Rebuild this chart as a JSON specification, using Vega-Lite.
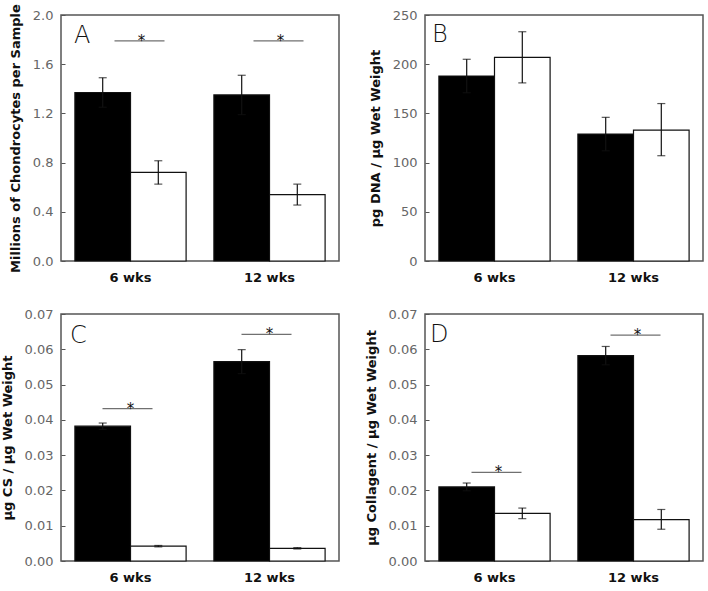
{
  "$schema": "https://vega.github.io/schema/vega-lite/v6.json",
  "padding": {"left": 0, "top": 2, "right": 0, "bottom": 0},
  "background": "white",
  "config": {
    "font": "DejaVu Sans",
    "view": {"stroke": "#555", "strokeWidth": 1.5},
    "axis": {"labelFont": "DejaVu Sans", "titleFont": "DejaVu Sans", "domain": false, "grid": false, "labelOverlap": false},
    "axisY": {"labelColor": "#666", "labelFontSize": 13, "titleFontSize": 13, "titleFontWeight": "bold", "titleColor": "#111", "tickSize": -4, "tickColor": "#555", "labelPadding": 12, "titlePadding": 10, "labelOverlap": false},
    "axisX": {"labelColor": "#111", "labelFontSize": 13, "labelFontWeight": "bold", "ticks": false, "labelPadding": 10, "labelAngle": 0}
  },
  "datasets": {
    "bars": [
      {"panel": "A", "group": "6 wks", "series": "filled", "value": 1.37, "lo": 1.25, "hi": 1.49},
      {"panel": "A", "group": "6 wks", "series": "open", "value": 0.72, "lo": 0.625, "hi": 0.815},
      {"panel": "A", "group": "12 wks", "series": "filled", "value": 1.35, "lo": 1.19, "hi": 1.51},
      {"panel": "A", "group": "12 wks", "series": "open", "value": 0.54, "lo": 0.455, "hi": 0.625},
      {"panel": "B", "group": "6 wks", "series": "filled", "value": 188, "lo": 171, "hi": 205},
      {"panel": "B", "group": "6 wks", "series": "open", "value": 207, "lo": 181, "hi": 233},
      {"panel": "B", "group": "12 wks", "series": "filled", "value": 129, "lo": 112, "hi": 146},
      {"panel": "B", "group": "12 wks", "series": "open", "value": 133, "lo": 107, "hi": 160},
      {"panel": "C", "group": "6 wks", "series": "filled", "value": 0.0382, "lo": 0.0373, "hi": 0.0391},
      {"panel": "C", "group": "6 wks", "series": "open", "value": 0.0042, "lo": 0.0040, "hi": 0.0044},
      {"panel": "C", "group": "12 wks", "series": "filled", "value": 0.0565, "lo": 0.0531, "hi": 0.0599},
      {"panel": "C", "group": "12 wks", "series": "open", "value": 0.0036, "lo": 0.0034, "hi": 0.0038},
      {"panel": "D", "group": "6 wks", "series": "filled", "value": 0.0210, "lo": 0.0199, "hi": 0.0221},
      {"panel": "D", "group": "6 wks", "series": "open", "value": 0.0135, "lo": 0.0120, "hi": 0.0150},
      {"panel": "D", "group": "12 wks", "series": "filled", "value": 0.0582, "lo": 0.0556, "hi": 0.0608},
      {"panel": "D", "group": "12 wks", "series": "open", "value": 0.0117, "lo": 0.0090, "hi": 0.0146}
    ],
    "sig": [
      {"panel": "A", "group": "6 wks", "y": 1.79},
      {"panel": "A", "group": "12 wks", "y": 1.79},
      {"panel": "C", "group": "6 wks", "y": 0.0432},
      {"panel": "C", "group": "12 wks", "y": 0.0642},
      {"panel": "D", "group": "6 wks", "y": 0.0251},
      {"panel": "D", "group": "12 wks", "y": 0.0640}
    ],
    "letters": [
      {"panel": "A", "letter": "A"},
      {"panel": "B", "letter": "B"},
      {"panel": "C", "letter": "C"},
      {"panel": "D", "letter": "D"}
    ]
  },
  "columns": 2,
  "spacing": {"row": 22, "column": 24},
  "concat": [
    {
      "width": 278, "height": 246,
      "encoding": {
        "x": {"field": "group", "type": "nominal", "sort": ["6 wks", "12 wks"], "title": null, "scale": {"paddingInner": 0.2, "paddingOuter": 0.1}}
      },
      "layer": [
        {"data": {"name": "bars"}, "transform": [{"filter": "datum.panel === 'A'"}], "mark": {"type": "bar", "stroke": "#111", "strokeWidth": 1.2},
         "encoding": {"xOffset": {"field": "series", "sort": ["filled", "open"], "scale": {"paddingInner": 0, "paddingOuter": 0}},
           "y": {"field": "value", "type": "quantitative", "title": "Millions of Chondrocytes per Sample", "scale": {"domain": [0, 2.0], "nice": false}, "axis": {"values": [0, 0.4, 0.8, 1.2, 1.6, 2.0], "format": ".1f", "labelOverlap": false}},
           "fill": {"field": "series", "type": "nominal", "scale": {"domain": ["filled", "open"], "range": ["#000000", "#ffffff"]}, "legend": null}}},
        {"data": {"name": "bars"}, "transform": [{"filter": "datum.panel === 'A'"}], "mark": {"type": "rule", "color": "#111", "strokeWidth": 1.2},
         "encoding": {"xOffset": {"field": "series", "sort": ["filled", "open"]}, "y": {"field": "lo", "type": "quantitative", "title": "Millions of Chondrocytes per Sample", "axis": {"values": [0, 0.4, 0.8, 1.2, 1.6, 2.0], "format": ".1f", "labelOverlap": false}}, "y2": {"field": "hi"}}},
        {"data": {"name": "bars"}, "transform": [{"filter": "datum.panel === 'A'"}], "mark": {"type": "tick", "color": "#111", "size": 8, "thickness": 1.2},
         "encoding": {"xOffset": {"field": "series", "sort": ["filled", "open"]}, "y": {"field": "hi", "type": "quantitative", "title": "Millions of Chondrocytes per Sample", "axis": {"values": [0, 0.4, 0.8, 1.2, 1.6, 2.0], "format": ".1f", "labelOverlap": false}}}},
        {"data": {"name": "bars"}, "transform": [{"filter": "datum.panel === 'A'"}], "mark": {"type": "tick", "color": "#111", "size": 8, "thickness": 1.2},
         "encoding": {"xOffset": {"field": "series", "sort": ["filled", "open"]}, "y": {"field": "lo", "type": "quantitative", "title": "Millions of Chondrocytes per Sample", "axis": {"values": [0, 0.4, 0.8, 1.2, 1.6, 2.0], "format": ".1f", "labelOverlap": false}}}},
        {"data": {"name": "sig"}, "transform": [{"filter": "datum.panel === 'A'"}], "mark": {"type": "tick", "color": "#333", "size": 50, "thickness": 1.2, "xOffset": 9},
         "encoding": {"y": {"field": "y", "type": "quantitative", "title": "Millions of Chondrocytes per Sample", "axis": {"values": [0, 0.4, 0.8, 1.2, 1.6, 2.0], "format": ".1f", "labelOverlap": false}}}},
        {"data": {"name": "sig"}, "transform": [{"filter": "datum.panel === 'A'"}], "mark": {"type": "text", "text": "*", "fontSize": 15, "baseline": "alphabetic", "dy": 5, "xOffset": 11, "color": "#111"},
         "encoding": {"y": {"field": "y", "type": "quantitative", "title": "Millions of Chondrocytes per Sample", "axis": {"values": [0, 0.4, 0.8, 1.2, 1.6, 2.0], "format": ".1f", "labelOverlap": false}}}},
        {"data": {"name": "letters"}, "transform": [{"filter": "datum.panel === 'A'"}], "mark": {"type": "text", "fontSize": 24, "fontWeight": 200, "align": "left", "baseline": "alphabetic", "dx": -1, "color": "#111"},
         "encoding": {"text": {"field": "letter"}, "x": {"datum": "6 wks", "bandPosition": 0}, "y": {"datum": 1.77, "type": "quantitative", "title": "Millions of Chondrocytes per Sample", "axis": {"values": [0, 0.4, 0.8, 1.2, 1.6, 2.0], "format": ".1f", "labelOverlap": false}}}}
      ]
    },
    {
      "width": 278, "height": 246,
      "encoding": {
        "x": {"field": "group", "type": "nominal", "sort": ["6 wks", "12 wks"], "title": null, "scale": {"paddingInner": 0.2, "paddingOuter": 0.1}}
      },
      "layer": [
        {"data": {"name": "bars"}, "transform": [{"filter": "datum.panel === 'B'"}], "mark": {"type": "bar", "stroke": "#111", "strokeWidth": 1.2},
         "encoding": {"xOffset": {"field": "series", "sort": ["filled", "open"], "scale": {"paddingInner": 0, "paddingOuter": 0}},
           "y": {"field": "value", "type": "quantitative", "title": "pg DNA / μg Wet Weight", "scale": {"domain": [0, 250], "nice": false}, "axis": {"values": [0, 50, 100, 150, 200, 250], "labelOverlap": false}},
           "fill": {"field": "series", "type": "nominal", "scale": {"domain": ["filled", "open"], "range": ["#000000", "#ffffff"]}, "legend": null}}},
        {"data": {"name": "bars"}, "transform": [{"filter": "datum.panel === 'B'"}], "mark": {"type": "rule", "color": "#111", "strokeWidth": 1.2},
         "encoding": {"xOffset": {"field": "series", "sort": ["filled", "open"]}, "y": {"field": "lo", "type": "quantitative", "title": "pg DNA / μg Wet Weight", "axis": {"values": [0, 50, 100, 150, 200, 250], "labelOverlap": false}}, "y2": {"field": "hi"}}},
        {"data": {"name": "bars"}, "transform": [{"filter": "datum.panel === 'B'"}], "mark": {"type": "tick", "color": "#111", "size": 8, "thickness": 1.2},
         "encoding": {"xOffset": {"field": "series", "sort": ["filled", "open"]}, "y": {"field": "hi", "type": "quantitative", "title": "pg DNA / μg Wet Weight", "axis": {"values": [0, 50, 100, 150, 200, 250], "labelOverlap": false}}}},
        {"data": {"name": "bars"}, "transform": [{"filter": "datum.panel === 'B'"}], "mark": {"type": "tick", "color": "#111", "size": 8, "thickness": 1.2},
         "encoding": {"xOffset": {"field": "series", "sort": ["filled", "open"]}, "y": {"field": "lo", "type": "quantitative", "title": "pg DNA / μg Wet Weight", "axis": {"values": [0, 50, 100, 150, 200, 250], "labelOverlap": false}}}},
        {"data": {"name": "letters"}, "transform": [{"filter": "datum.panel === 'B'"}], "mark": {"type": "text", "fontSize": 24, "fontWeight": 200, "align": "left", "baseline": "alphabetic", "dx": -7, "color": "#111"},
         "encoding": {"text": {"field": "letter"}, "x": {"datum": "6 wks", "bandPosition": 0}, "y": {"datum": 223, "type": "quantitative", "title": "pg DNA / μg Wet Weight", "axis": {"values": [0, 50, 100, 150, 200, 250], "labelOverlap": false}}}}
      ]
    },
    {
      "width": 278, "height": 247,
      "encoding": {
        "x": {"field": "group", "type": "nominal", "sort": ["6 wks", "12 wks"], "title": null, "scale": {"paddingInner": 0.2, "paddingOuter": 0.1}}
      },
      "layer": [
        {"data": {"name": "bars"}, "transform": [{"filter": "datum.panel === 'C'"}], "mark": {"type": "bar", "stroke": "#111", "strokeWidth": 1.2},
         "encoding": {"xOffset": {"field": "series", "sort": ["filled", "open"], "scale": {"paddingInner": 0, "paddingOuter": 0}},
           "y": {"field": "value", "type": "quantitative", "title": "μg CS / μg Wet Weight", "scale": {"domain": [0, 0.07], "nice": false}, "axis": {"values": [0, 0.01, 0.02, 0.03, 0.04, 0.05, 0.06, 0.07], "format": ".2f", "labelOverlap": false}},
           "fill": {"field": "series", "type": "nominal", "scale": {"domain": ["filled", "open"], "range": ["#000000", "#ffffff"]}, "legend": null}}},
        {"data": {"name": "bars"}, "transform": [{"filter": "datum.panel === 'C'"}], "mark": {"type": "rule", "color": "#111", "strokeWidth": 1.2},
         "encoding": {"xOffset": {"field": "series", "sort": ["filled", "open"]}, "y": {"field": "lo", "type": "quantitative", "title": "μg CS / μg Wet Weight", "axis": {"values": [0, 0.01, 0.02, 0.03, 0.04, 0.05, 0.06, 0.07], "format": ".2f", "labelOverlap": false}}, "y2": {"field": "hi"}}},
        {"data": {"name": "bars"}, "transform": [{"filter": "datum.panel === 'C'"}], "mark": {"type": "tick", "color": "#111", "size": 8, "thickness": 1.2},
         "encoding": {"xOffset": {"field": "series", "sort": ["filled", "open"]}, "y": {"field": "hi", "type": "quantitative", "title": "μg CS / μg Wet Weight", "axis": {"values": [0, 0.01, 0.02, 0.03, 0.04, 0.05, 0.06, 0.07], "format": ".2f", "labelOverlap": false}}}},
        {"data": {"name": "bars"}, "transform": [{"filter": "datum.panel === 'C'"}], "mark": {"type": "tick", "color": "#111", "size": 8, "thickness": 1.2},
         "encoding": {"xOffset": {"field": "series", "sort": ["filled", "open"]}, "y": {"field": "lo", "type": "quantitative", "title": "μg CS / μg Wet Weight", "axis": {"values": [0, 0.01, 0.02, 0.03, 0.04, 0.05, 0.06, 0.07], "format": ".2f", "labelOverlap": false}}}},
        {"data": {"name": "sig"}, "transform": [{"filter": "datum.panel === 'C'"}], "mark": {"type": "tick", "color": "#333", "size": 50, "thickness": 1.2, "xOffset": -3},
         "encoding": {"y": {"field": "y", "type": "quantitative", "title": "μg CS / μg Wet Weight", "axis": {"values": [0, 0.01, 0.02, 0.03, 0.04, 0.05, 0.06, 0.07], "format": ".2f", "labelOverlap": false}}}},
        {"data": {"name": "sig"}, "transform": [{"filter": "datum.panel === 'C'"}], "mark": {"type": "text", "text": "*", "fontSize": 15, "baseline": "alphabetic", "dy": 5, "xOffset": 0, "color": "#111"},
         "encoding": {"y": {"field": "y", "type": "quantitative", "title": "μg CS / μg Wet Weight", "axis": {"values": [0, 0.01, 0.02, 0.03, 0.04, 0.05, 0.06, 0.07], "format": ".2f", "labelOverlap": false}}}},
        {"data": {"name": "letters"}, "transform": [{"filter": "datum.panel === 'C'"}], "mark": {"type": "text", "fontSize": 24, "fontWeight": 200, "align": "left", "baseline": "alphabetic", "dx": -5, "color": "#111"},
         "encoding": {"text": {"field": "letter"}, "x": {"datum": "6 wks", "bandPosition": 0}, "y": {"datum": 0.0617, "type": "quantitative", "title": "μg CS / μg Wet Weight", "axis": {"values": [0, 0.01, 0.02, 0.03, 0.04, 0.05, 0.06, 0.07], "format": ".2f", "labelOverlap": false}}}}
      ]
    },
    {
      "width": 278, "height": 247,
      "encoding": {
        "x": {"field": "group", "type": "nominal", "sort": ["6 wks", "12 wks"], "title": null, "scale": {"paddingInner": 0.2, "paddingOuter": 0.1}}
      },
      "layer": [
        {"data": {"name": "bars"}, "transform": [{"filter": "datum.panel === 'D'"}], "mark": {"type": "bar", "stroke": "#111", "strokeWidth": 1.2},
         "encoding": {"xOffset": {"field": "series", "sort": ["filled", "open"], "scale": {"paddingInner": 0, "paddingOuter": 0}},
           "y": {"field": "value", "type": "quantitative", "title": "μg Collagent / μg Wet Weight", "scale": {"domain": [0, 0.07], "nice": false}, "axis": {"values": [0, 0.01, 0.02, 0.03, 0.04, 0.05, 0.06, 0.07], "format": ".2f", "labelOverlap": false}},
           "fill": {"field": "series", "type": "nominal", "scale": {"domain": ["filled", "open"], "range": ["#000000", "#ffffff"]}, "legend": null}}},
        {"data": {"name": "bars"}, "transform": [{"filter": "datum.panel === 'D'"}], "mark": {"type": "rule", "color": "#111", "strokeWidth": 1.2},
         "encoding": {"xOffset": {"field": "series", "sort": ["filled", "open"]}, "y": {"field": "lo", "type": "quantitative", "title": "μg Collagent / μg Wet Weight", "axis": {"values": [0, 0.01, 0.02, 0.03, 0.04, 0.05, 0.06, 0.07], "format": ".2f", "labelOverlap": false}}, "y2": {"field": "hi"}}},
        {"data": {"name": "bars"}, "transform": [{"filter": "datum.panel === 'D'"}], "mark": {"type": "tick", "color": "#111", "size": 8, "thickness": 1.2},
         "encoding": {"xOffset": {"field": "series", "sort": ["filled", "open"]}, "y": {"field": "hi", "type": "quantitative", "title": "μg Collagent / μg Wet Weight", "axis": {"values": [0, 0.01, 0.02, 0.03, 0.04, 0.05, 0.06, 0.07], "format": ".2f", "labelOverlap": false}}}},
        {"data": {"name": "bars"}, "transform": [{"filter": "datum.panel === 'D'"}], "mark": {"type": "tick", "color": "#111", "size": 8, "thickness": 1.2},
         "encoding": {"xOffset": {"field": "series", "sort": ["filled", "open"]}, "y": {"field": "lo", "type": "quantitative", "title": "μg Collagent / μg Wet Weight", "axis": {"values": [0, 0.01, 0.02, 0.03, 0.04, 0.05, 0.06, 0.07], "format": ".2f", "labelOverlap": false}}}},
        {"data": {"name": "sig"}, "transform": [{"filter": "datum.panel === 'D'"}], "mark": {"type": "tick", "color": "#333", "size": 50, "thickness": 1.2, "xOffset": 2},
         "encoding": {"y": {"field": "y", "type": "quantitative", "title": "μg Collagent / μg Wet Weight", "axis": {"values": [0, 0.01, 0.02, 0.03, 0.04, 0.05, 0.06, 0.07], "format": ".2f", "labelOverlap": false}}}},
        {"data": {"name": "sig"}, "transform": [{"filter": "datum.panel === 'D'"}], "mark": {"type": "text", "text": "*", "fontSize": 15, "baseline": "alphabetic", "dy": 5, "xOffset": 4, "color": "#111"},
         "encoding": {"y": {"field": "y", "type": "quantitative", "title": "μg Collagent / μg Wet Weight", "axis": {"values": [0, 0.01, 0.02, 0.03, 0.04, 0.05, 0.06, 0.07], "format": ".2f", "labelOverlap": false}}}},
        {"data": {"name": "letters"}, "transform": [{"filter": "datum.panel === 'D'"}], "mark": {"type": "text", "fontSize": 24, "fontWeight": 200, "align": "left", "baseline": "alphabetic", "dx": -9, "color": "#111"},
         "encoding": {"text": {"field": "letter"}, "x": {"datum": "6 wks", "bandPosition": 0}, "y": {"datum": 0.0621, "type": "quantitative", "title": "μg Collagent / μg Wet Weight", "axis": {"values": [0, 0.01, 0.02, 0.03, 0.04, 0.05, 0.06, 0.07], "format": ".2f", "labelOverlap": false}}}}
      ]
    }
  ]
}
